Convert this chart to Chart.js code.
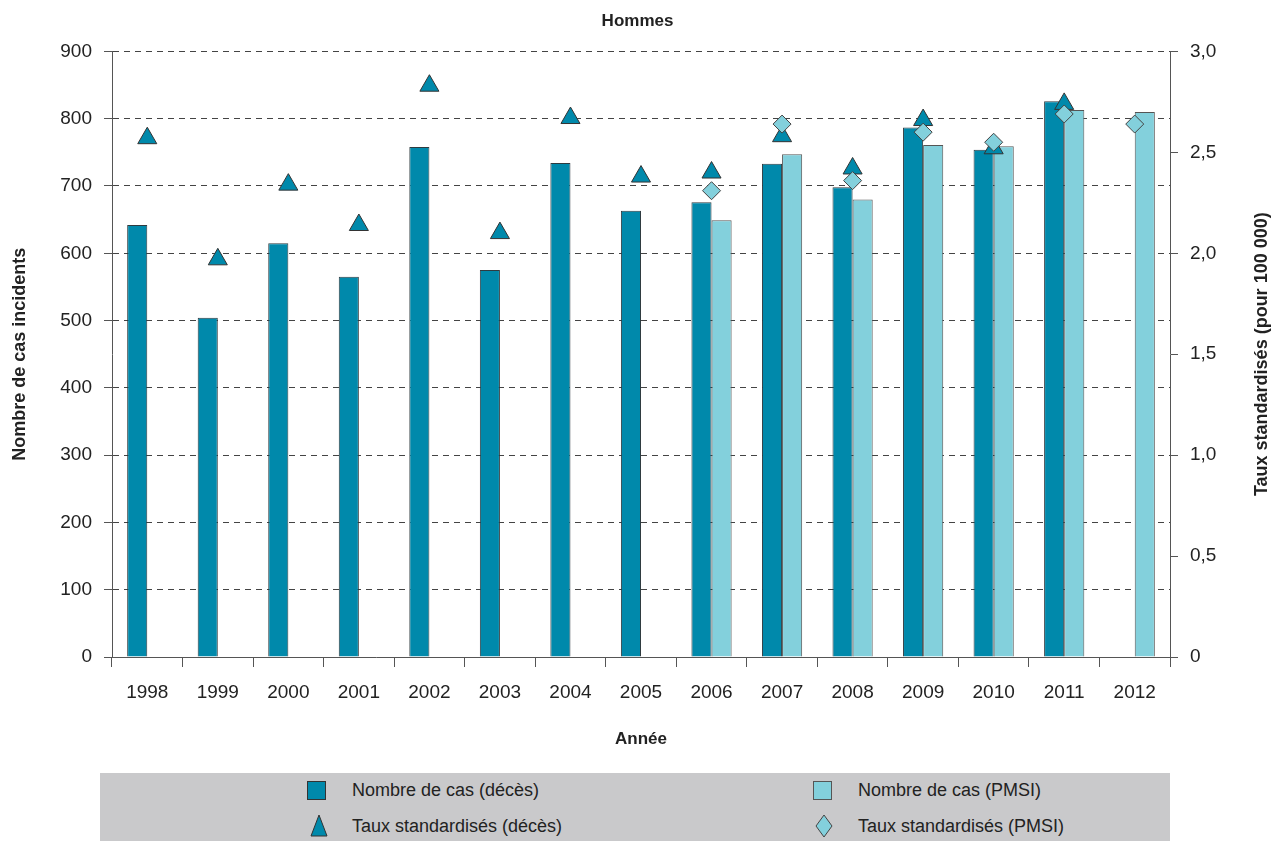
<!DOCTYPE html>
<html>
<head>
<meta charset="utf-8">
<script src="https://cdn.jsdelivr.net/npm/chart.js@4"></script>
<style>
  body { margin: 0; background: #fff; font-family: 'Liberation Sans', Arial, sans-serif; }
  #wrap { position: relative; width: 1275px; height: 841px; }
  #legend { position: absolute; left: 100px; top: 773px; width: 1070px; height: 68px; background: #c9c9cb; }
  .item { position: absolute; font-size: 18px; color: #222; line-height: 20px; }
  .sw { position: absolute; }
</style>
</head>
<body>
<div id="wrap">
  <canvas id="c" width="1275" height="841"></canvas>
  <div id="legend">
    <div class="item" style="left:207px;top:7px">
      <span class="sw" style="left:0;top:1px;width:17px;height:17px;background:#0089ab;border:1px solid #333"></span>
      <span style="margin-left:45px">Nombre de cas (décès)</span>
    </div>
    <div class="item" style="left:713px;top:7px">
      <span class="sw" style="left:0;top:1px;width:17px;height:17px;background:#83d0dc;border:1px solid #555"></span>
      <span style="margin-left:45px">Nombre de cas (PMSI)</span>
    </div>
    <div class="item" style="left:207px;top:43px">
      <svg class="sw" style="left:2px;top:-2px" width="20" height="24"><polygon points="10,1 18,22 2,22" fill="#0089ab" stroke="#333" stroke-width="1"/></svg>
      <span style="margin-left:45px">Taux standardisés (décès)</span>
    </div>
    <div class="item" style="left:713px;top:43px">
      <svg class="sw" style="left:2px;top:-2px" width="20" height="24"><polygon points="9,1 17,12 9,23 1,12" fill="#83d0dc" stroke="#444" stroke-width="1"/></svg>
      <span style="margin-left:45px">Taux standardisés (PMSI)</span>
    </div>
  </div>
</div>
<script>
const years = ['1998','1999','2000','2001','2002','2003','2004','2005','2006','2007','2008','2009','2010','2011','2012'];
const casDeces = [642, 504, 615, 565, 758, 575, 734, 663, 676, 733, 698, 787, 754, 826, null];
const casPmsi = [null, null, null, null, null, null, null, null, 649, 747, 680, 761, 759, 813, 810];
const tauxDeces = [2.57, 1.97, 2.34, 2.14, 2.83, 2.10, 2.67, 2.38, 2.40, 2.58, 2.42, 2.66, 2.52, 2.74, null];
const tauxPmsi = [null, null, null, null, null, null, null, null, 2.31, 2.64, 2.36, 2.60, 2.55, 2.69, 2.64];

const FONT = "'Liberation Sans', Arial, sans-serif";
Chart.defaults.font.family = FONT;
Chart.defaults.color = '#222';

// right axis title reads bottom-to-top, like the left one
const rightTitle = {
  id: 'rightTitle',
  afterDraw(chart) {
    const ctx = chart.ctx, a = chart.chartArea;
    ctx.save();
    ctx.translate(1262, (a.top + a.bottom) / 2);
    ctx.rotate(-Math.PI / 2);
    ctx.font = 'bold 18px ' + FONT;
    ctx.fillStyle = '#222';
    ctx.textAlign = 'center';
    ctx.textBaseline = 'middle';
    ctx.fillText('Taux standardisés (pour 100 000)', 0, 0);
    ctx.restore();
  }
};

new Chart(document.getElementById('c'), {
  data: {
    labels: years,
    datasets: [
      { type: 'line', label: 'Taux standardisés (PMSI)', data: tauxPmsi, yAxisID: 'y2', showLine: false,
        pointStyle: 'rectRot', pointRadius: 9, pointBackgroundColor: '#83d0dc', pointBorderColor: '#444', pointBorderWidth: 1, order: 0 },
      { type: 'line', label: 'Taux standardisés (décès)', data: tauxDeces, yAxisID: 'y2', showLine: false,
        pointStyle: 'triangle', pointRadius: 11, pointBackgroundColor: '#0089ab', pointBorderColor: '#333', pointBorderWidth: 1, order: 1 },
      { type: 'bar', label: 'Nombre de cas (décès)', data: casDeces, yAxisID: 'y', backgroundColor: '#0089ab',
        borderColor: '#2f3b40', borderWidth: 1, categoryPercentage: 0.57, barPercentage: 1.0, order: 2 },
      { type: 'bar', label: 'Nombre de cas (PMSI)', data: casPmsi, yAxisID: 'y', backgroundColor: '#83d0dc',
        borderColor: '#555', borderWidth: 1, categoryPercentage: 0.57, barPercentage: 1.0, order: 3 }
    ]
  },
  plugins: [rightTitle],
  options: {
    responsive: false,
    animation: false,
    layout: { padding: { top: 0, bottom: 91, left: 0, right: 0 } },
    plugins: {
      legend: { display: false },
      tooltip: { enabled: false },
      title: { display: true, text: 'Hommes', font: { size: 17, weight: 'bold' }, color: '#222', padding: { top: 11, bottom: 20 } }
    },
    scales: {
      x: {
        grid: { offset: true, drawOnChartArea: false, color: '#555', tickLength: 10 },
        border: { color: '#555' },
        ticks: { font: { size: 19 }, padding: 14, color: '#222' },
        title: { display: true, text: 'Année', font: { size: 17, weight: 'bold' }, color: '#222', padding: { top: 20, bottom: 0 } },
        afterFit: s => { s.height = 93; }
      },
      y: {
        position: 'left', min: 0, max: 900,
        ticks: { stepSize: 100, font: { size: 19 }, padding: 12, color: '#222' },
        grid: { color: '#444', tickLength: 8, tickColor: '#555' },
        border: { color: '#555', dash: [6, 5] },
        title: { display: true, text: 'Nombre de cas incidents', font: { size: 18, weight: 'bold' }, color: '#222', padding: { top: 9, bottom: 0 } },
        afterFit: s => { s.width = 112; }
      },
      y2: {
        position: 'right', min: 0, max: 3,
        ticks: { stepSize: 0.5, font: { size: 19 }, padding: 12, color: '#222',
          callback: v => v === 0 ? '0' : v.toFixed(1).replace('.', ',') },
        grid: { drawOnChartArea: false, color: '#555', tickLength: 8 },
        border: { color: '#555' },
        afterFit: s => { s.width = 105; }
      }
    }
  }
});
</script>
</body>
</html>
